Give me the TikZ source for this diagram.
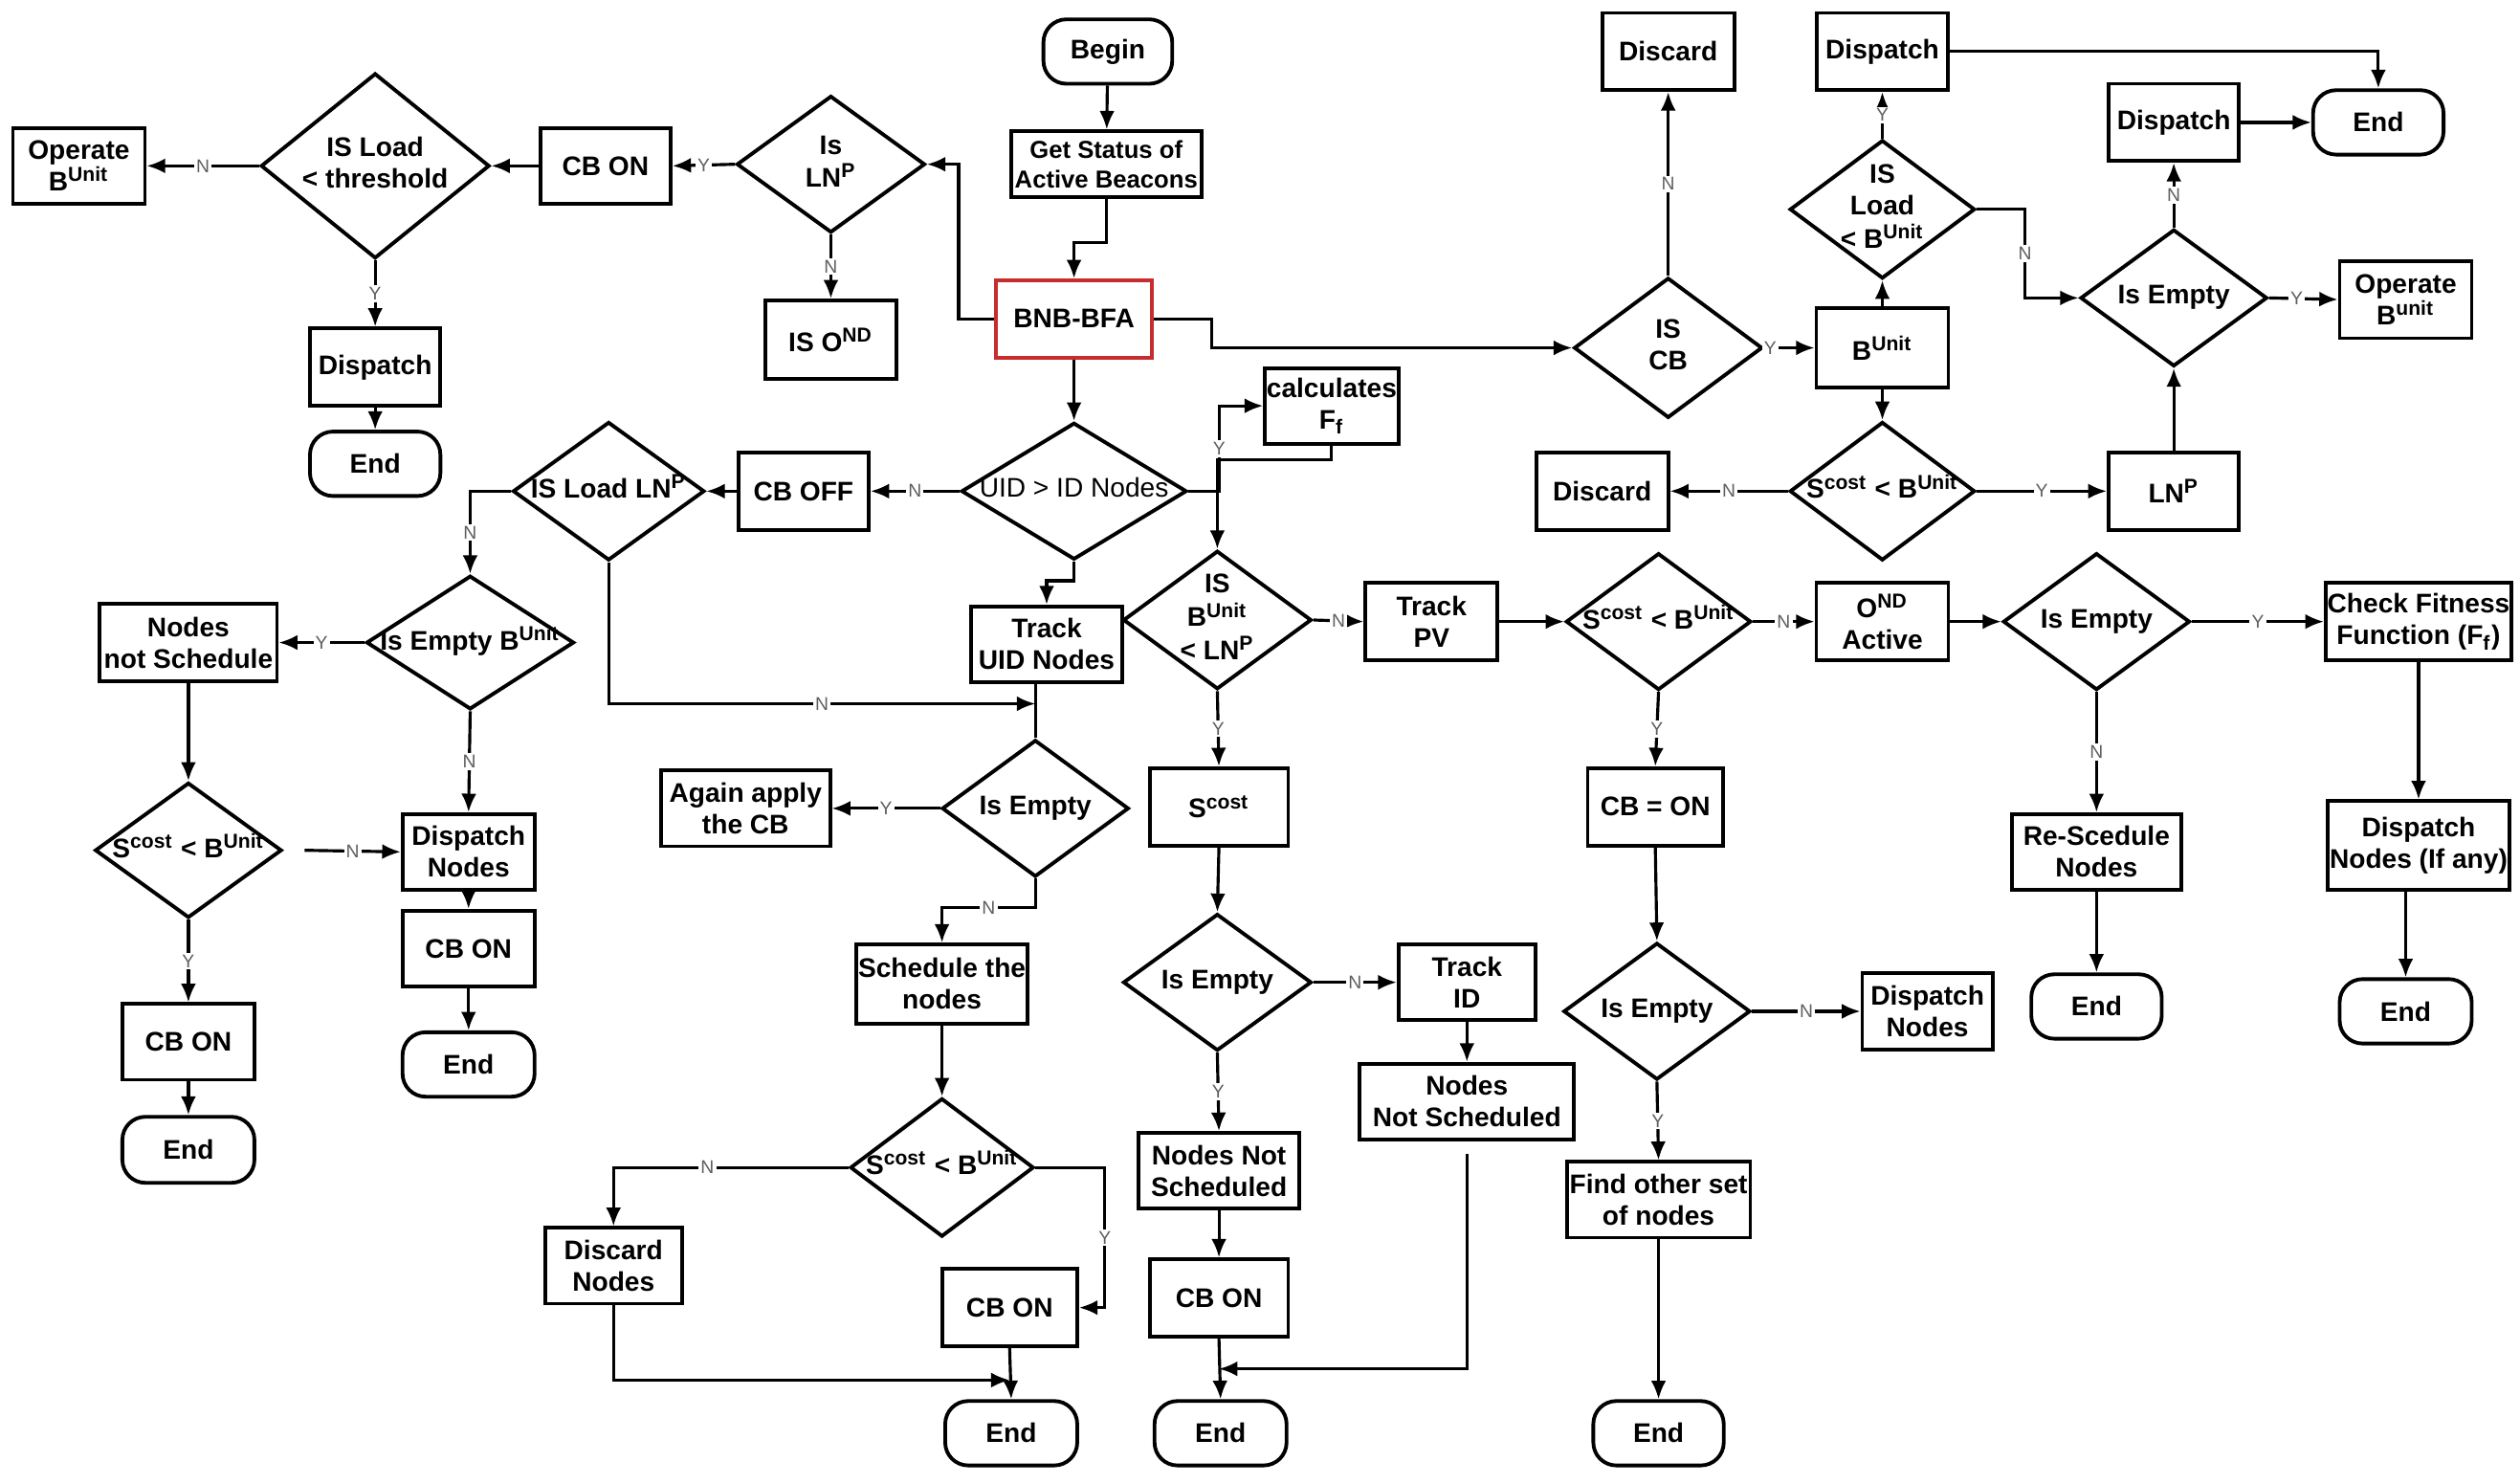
\documentclass[tikz,border=0pt]{standalone}
\usepackage{fontspec}
\setmainfont{Liberation Sans}
\usetikzlibrary{shapes.geometric,arrows.meta,calc}
\definecolor{bnbred}{RGB}{200,45,45}
\definecolor{lblgray}{RGB}{95,95,95}
\newcommand{\dt}[1]{\makebox[0pt]{\begin{tabular}{@{}c@{}}#1\end{tabular}}}
\newcommand{\sps}[1]{\textsuperscript{#1}}
\tikzset{
  nbase/.style={draw, line width=1.1pt, font=\fontsize{8}{9.4}\selectfont\bfseries},
  box/.style 2 args={nbase, rectangle, align=center, inner sep=0.5pt,
    minimum width=#1*0.01683cm, minimum height=#2*0.01683cm},
  term/.style 2 args={box={#1}{#2}, rounded corners=0.24cm},
  dia/.style 2 args={nbase, diamond, inner sep=0pt,
    minimum width=#1*0.01683cm, minimum height=#2*0.01683cm},
  arr/.style={line width=0.9pt, -{Latex[length=5.5pt,width=4.5pt]}},
  ln/.style={line width=0.9pt},
  lbl/.style={fill=white, inner sep=0.6pt, font=\fontsize{5.5}{6}\selectfont, text=lblgray},
}
\begin{document}
\begin{tikzpicture}[x=0.01683cm, y=-0.01683cm]
\useasboundingbox (0,0) rectangle (1565,921);

% ---------- top centre / left ----------
\node[term={80}{40}] (begin) at (688,32) {Begin};
\node[box={118}{41}, font=\fontsize{7.3}{9}\selectfont\bfseries] (get) at (687,102) {Get Status of\\Active Beacons};
\node[box={97}{48}, draw=bnbred] (bnb) at (667,198) {BNB-BFA};
\node[dia={117}{85}] (isln) at (516,102) {\dt{Is\\LN\sps{P}}};
\node[box={81}{49}] (isond) at (516,211) {IS O\sps{ND}};
\node[box={81}{47}] (cbon1) at (376,103) {CB ON};
\node[dia={142}{115}] (isload) at (233,103) {\dt{IS Load\\< threshold}};
\node[box={82}{47}] (operate1) at (49,103) {Operate\\B\sps{Unit}};
\node[box={81}{48}] (dispatch1) at (233,228) {Dispatch};
\node[term={81}{40}] (end1) at (233,288) {End};

% ---------- top right ----------
\node[dia={117}{87}] (iscb) at (1036,216) {\dt{IS\\CB}};
\node[box={82}{48}] (discard1) at (1036,32) {Discard};
\node[box={82}{49}] (bunit) at (1169,216) {B\sps{Unit}};
\node[dia={115}{86}] (isloadb) at (1169,130) {\dt{IS\\Load\\< B\sps{Unit}}};
\node[box={81}{48}] (dispatch2) at (1169,32) {Dispatch};
\node[term={81}{40}] (end2) at (1477,76) {End};
\node[box={81}{48}] (dispatch3) at (1350,76) {Dispatch};
\node[dia={116}{85}] (isempty1) at (1350,185) {\dt{Is Empty}};
\node[box={82}{48}] (operate2) at (1494,186) {Operate\\B\sps{unit}};
\node[dia={115}{86}] (scost1) at (1169,305) {\dt{S\sps{cost} < B\sps{Unit}}};
\node[box={82}{48}] (discard2) at (995,305) {Discard};
\node[box={81}{48}] (lnp) at (1350,305) {LN\sps{P}};

% ---------- middle ----------
\node[dia={140}{85}, font=\fontsize{8}{9.4}\selectfont] (uid) at (667,305) {\dt{UID > ID Nodes}};
\node[box={81}{48}] (cboff) at (499,305) {CB OFF};
\node[dia={119}{86}] (isloadln) at (378,305) {\dt{IS Load LN\sps{P}}};
\node[box={81}{47}] (calc) at (827,252) {calculates\\F\textsubscript{f}};
\node[box={94}{47}] (trackuid) at (650,400) {Track\\UID Nodes};
\node[dia={117}{86}] (isbunit) at (756,385) {\dt{IS\\B\sps{Unit}\\< LN\sps{P}}};
\node[dia={116}{85}] (isempty2) at (643,502) {\dt{Is Empty}};
\node[box={105}{47}] (again) at (463,502) {Again apply\\the CB};
\node[box={103}{49}] (schedule) at (585,611) {Schedule the\\nodes};
\node[dia={114}{86}] (scost3) at (585,725) {\dt{S\sps{cost} < B\sps{Unit}}};
\node[box={85}{47}] (discardn) at (381,786) {Discard\\Nodes};
\node[box={84}{48}] (cbon3) at (627,812) {CB ON};
\node[term={82}{40}] (end3) at (628,890) {End};

% ---------- left ----------
\node[dia={129}{83}] (isemptyb) at (292,399) {\dt{Is Empty B\sps{Unit}}};
\node[box={110}{48}] (notsched) at (117,399) {Nodes\\not Schedule};
\node[box={82}{47}] (dispatchn1) at (291,529) {Dispatch\\Nodes};
\node[dia={116}{84}] (scost2) at (117,528) {\dt{S\sps{cost} < B\sps{Unit}}};
\node[box={82}{47}] (cbon2) at (117,647) {CB ON};
\node[term={82}{41}] (end4) at (117,714) {End};
\node[box={82}{47}] (cbon4) at (291,589) {CB ON};
\node[term={82}{40}] (end5) at (291,661) {End};

% ---------- centre right ----------
\node[box={82}{48}] (trackpv) at (889,386) {Track\\PV};
\node[box={86}{48}] (scost) at (757,501) {S\sps{cost}};
\node[dia={115}{85}] (scost4) at (1030,386) {\dt{S\sps{cost} < B\sps{Unit}}};
\node[box={82}{48}] (ond) at (1169,386) {O\sps{ND}\\Active};
\node[box={84}{48}] (cbeq) at (1028,501) {CB = ON};
\node[dia={116}{85}] (isempty3) at (1029,628) {\dt{Is Empty}};
\node[box={81}{48}] (dispatchn2) at (1197,628) {Dispatch\\Nodes};
\node[box={114}{47}] (find) at (1030,745) {Find other set\\of nodes};
\node[term={81}{40}] (end6) at (1030,890) {End};
\node[dia={116}{85}] (isempty4) at (1302,386) {\dt{Is Empty}};
\node[box={114}{48}] (check) at (1502,386) {Check Fitness\\Function (F\textsubscript{f})};
\node[box={105}{47}] (resched) at (1302,529) {Re-Scedule\\Nodes};
\node[term={81}{40}] (end7) at (1302,625) {End};
\node[box={112}{55}] (dispatchany) at (1502,525) {Dispatch\\Nodes (If any)};
\node[term={82}{40}] (end8) at (1494,628) {End};
\node[dia={117}{85}] (isempty5) at (756,610) {\dt{Is Empty}};
\node[box={85}{47}] (trackid) at (911,610) {Track\\ID};
\node[box={133}{47}] (notsched2) at (911,684) {Nodes\\Not Scheduled};
\node[box={100}{47}] (nns) at (757,727) {Nodes Not\\Scheduled};
\node[box={86}{48}] (cbon5) at (757,806) {CB ON};
\node[term={82}{40}] (end9) at (758,890) {End};

% ---------- junction points ----------
\coordinate (j1) at (643,437);
\coordinate (j2) at (627,857);
\coordinate (j3) at (757,850);

% ---------- connectors ----------
\draw[arr] (begin) -- (get);
\draw[arr] (get.south) -- ++(0,27) -| (bnb.north);
\draw[arr] (bnb.west) -- ++(-22,0) |- (isln.east);
\draw[arr] (isln.west) -- node[lbl]{Y} (cbon1.east);
\draw[arr] (isln.south) -- node[lbl]{N} (isond.north);
\draw[arr] (cbon1.west) -- (isload.east);
\draw[arr] (isload.west) -- node[lbl]{N} (operate1.east);
\draw[arr] (isload.south) -- node[lbl]{Y} (dispatch1.north);
\draw[arr] (dispatch1) -- (end1);
\draw[arr] (bnb.east) -- ++(36,0) |- (iscb.west);
\draw[arr] (bnb.south) -- (uid.north);

\draw[arr] (iscb.north) -- node[lbl]{N} (discard1.south);
\draw[arr] (iscb.east) -- node[lbl,pos=0.12]{Y} (bunit.west);
\draw[arr] (bunit.north) -- (isloadb.south);
\draw[arr] (isloadb.north) -- node[lbl]{Y} (dispatch2.south);
\draw[arr] (dispatch2.east) -| (end2.north);
\draw[arr] (dispatch3.east) -- (end2.west);
\draw[arr] (isempty1.north) -- node[lbl]{N} (dispatch3.south);
\draw[arr] (isloadb.east) -- ++(30,0) |- node[lbl,pos=0.25]{N} (isempty1.west);
\draw[arr] (isempty1.east) -- node[lbl,pos=0.4]{Y} (operate2.west);
\draw[arr] (bunit.south) -- (scost1.north);
\draw[arr] (scost1.west) -- node[lbl]{N} (discard2.east);
\draw[arr] (scost1.east) -- node[lbl]{Y} (lnp.west);
\draw[arr] (lnp.north) -- (isempty1.south);

\draw[arr] (uid.west) -- node[lbl]{N} (cboff.east);
\draw[arr] (cboff.west) -- (isloadln.east);
\draw[arr] (isloadln.west) -| node[lbl,pos=0.75]{N} (isemptyb.north);
\draw[arr] (isloadln.south) |- node[lbl,pos=0.75]{N} (j1);
\draw[arr] (uid.south) -- ++(0,12) -| (trackuid.north);
\draw[arr] (uid.east) -- ++(19,0) |- node[lbl,pos=0.25]{Y} (calc.west);
\draw[arr] (calc.south) -- ++(0,9) -| (isbunit.north);
\draw[ln] (isempty2.north |- trackuid.south) -- (isempty2.north);
\draw[arr] (isempty2.west) -- node[lbl]{Y} (again.east);
\draw[arr] (isempty2.south) -- ++(0,18) -| node[lbl,pos=0.25]{N} (schedule.north);
\draw[arr] (schedule.south) -- (scost3.north);
\draw[arr] (scost3.west) -| node[lbl,pos=0.3]{N} (discardn.north);
\draw[arr] (scost3.east) -- ++(43,0) |- node[lbl,pos=0.25]{Y} (cbon3.east);
\draw[arr] (cbon3.south) -- (end3.north);
\draw[arr] (discardn.south) |- (j2);

\draw[arr] (isemptyb.west) -- node[lbl]{Y} (notsched.east);
\draw[arr] (isemptyb.south) -- node[lbl]{N} (dispatchn1.north);
\draw[arr] (notsched.south) -- (scost2.north);
\draw[arr] ([xshift=0.22cm]scost2.east) -- node[lbl]{N} (dispatchn1.west);
\draw[arr] (scost2.south) -- node[lbl]{Y} (cbon2.north);
\draw[arr] (cbon2) -- (end4);
\draw[arr] (dispatchn1) -- (cbon4);
\draw[arr] (cbon4) -- (end5);

\draw[arr] (isbunit.east) -- node[lbl]{N} (trackpv.west);
\draw[arr] (isbunit.south) -- node[lbl]{Y} (scost.north);
\draw[arr] (trackpv.east) -- (scost4.west);
\draw[arr] (scost4.east) -- node[lbl]{N} (ond.west);
\draw[arr] (scost4.south) -- node[lbl]{Y} (cbeq.north);
\draw[arr] (cbeq.south) -- (isempty3.north);
\draw[arr] (isempty3.east) -- node[lbl]{N} (dispatchn2.west);
\draw[arr] (isempty3.south) -- node[lbl]{Y} (find.north);
\draw[arr] (find.south) -- (end6.north);
\draw[arr] (ond.east) -- (isempty4.west);
\draw[arr] (isempty4.east) -- node[lbl]{Y} (check.west);
\draw[arr] (isempty4.south) -- node[lbl]{N} (resched.north);
\draw[arr] (resched.south) -- (end7.north);
\draw[arr] (check.south) -- (check.south |- dispatchany.north);
\draw[arr] (end8.north |- dispatchany.south) -- (end8.north);

\draw[arr] (scost.south) -- (isempty5.north);
\draw[arr] (isempty5.east) -- node[lbl]{N} (trackid.west);
\draw[arr] (trackid.south) -- (notsched2.north);
\draw[arr] (isempty5.south) -- node[lbl]{Y} (nns.north);
\draw[arr] (nns.south) -- (cbon5.north);
\draw[arr] (cbon5.south) -- (end9.north);
\draw[arr] ([yshift=-0.13cm]notsched2.south) |- (j3);
\end{tikzpicture}
\end{document}
